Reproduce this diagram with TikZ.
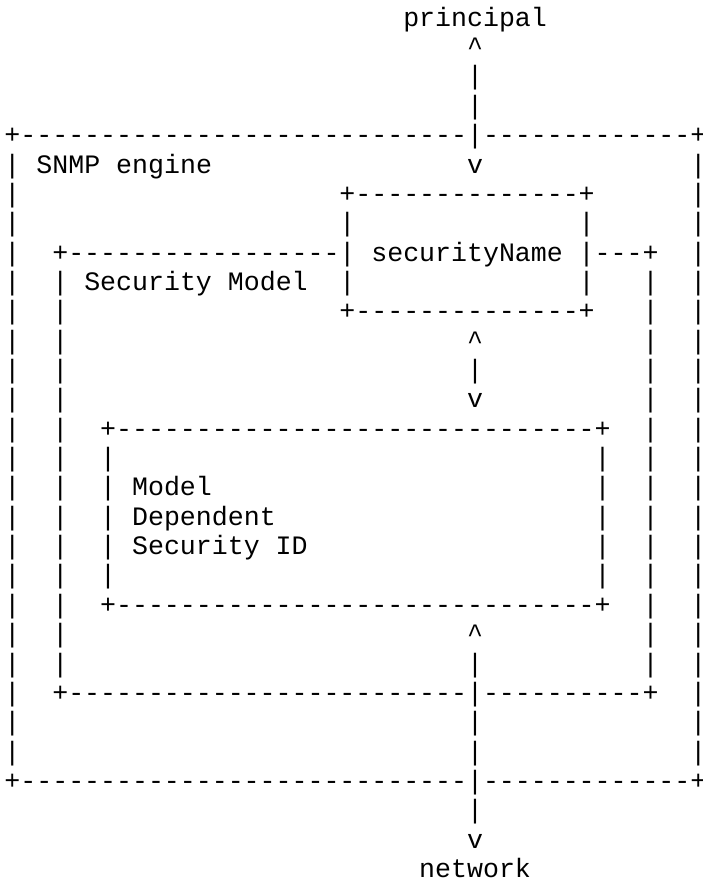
\documentclass[tikz,border=0pt]{standalone}
\usepackage{fontspec}
\newfontfamily\ascfont{Liberation Mono}
\tikzset{
  asc/.style={font=\ascfont\fontsize{26.6}{29.35}\selectfont, inner sep=0pt, outer sep=0pt, anchor=base west, text=black},
  ascchar/.style={asc, anchor=base}
}
% name, column, row, text (a word, set from the left edge of its first cell)
\newcommand\Ch[4]{\node[asc] (#1) at ({4.5+#2*15.95},{-(26.3+#3*29.35)}) {#4};}
% name, column, row, single character (centred in its cell)
\newcommand\Sc[4]{\node[ascchar] (#1) at ({12.475+#2*15.95},{-(26.3+#3*29.35)}) {\makebox[0pt]{#4}};}
% column, row
\newcommand\Bar[2]{\Sc{bar-#1-#2}{#1}{#2}{|}}
\newcommand\Plus[2]{\Sc{plus-#1-#2}{#1}{#2}{+}}
% row, from column, to column
\newcommand\Dashes[3]{\foreach \c in {#2,...,#3}{\Sc{dash-#1-\c}{\c}{#1}{-}}}
\newcommand\Up[2]{\Sc{up-#1-#2}{#1}{#2}{\char"5E}}
\newcommand\Down[2]{\Sc{down-#1-#2}{#1}{#2}{v}}
\begin{document}
\begin{tikzpicture}[x=1pt,y=1pt]
\useasboundingbox (0,0) rectangle (702,-882);
\fill[white] (0,0) rectangle (702,-882);
% texts
\Ch{principal}{25}{0}{principal}
\Ch{engine}{2}{5}{SNMP engine}
\Ch{secname}{23}{8}{securityName}
\Ch{secmodel}{5}{9}{Security Model}
\Ch{model}{8}{16}{Model}
\Ch{dependent}{8}{17}{Dependent}
\Ch{secid}{8}{18}{Security ID}
\Ch{network}{26}{29}{network}
% principal arrow
\Up{29}{1}
\Bar{29}{2}\Bar{29}{3}\Bar{29}{4}
\Down{29}{5}
% SNMP engine box
\Plus{0}{4}\Dashes{4}{1}{28}\Dashes{4}{30}{42}\Plus{43}{4}
\Plus{0}{26}\Dashes{26}{1}{28}\Dashes{26}{30}{42}\Plus{43}{26}
\foreach \r in {5,...,25}{\Bar{0}{\r}\Bar{43}{\r}}
% securityName box
\Plus{21}{6}\Dashes{6}{22}{35}\Plus{36}{6}
\Plus{21}{10}\Dashes{10}{22}{35}\Plus{36}{10}
\foreach \r in {7,8,9}{\Bar{21}{\r}\Bar{36}{\r}}
% Security Model box
\Plus{3}{8}\Dashes{8}{4}{20}\Dashes{8}{37}{39}\Plus{40}{8}
\Plus{3}{23}\Dashes{23}{4}{28}\Dashes{23}{30}{39}\Plus{40}{23}
\foreach \r in {9,...,22}{\Bar{3}{\r}\Bar{40}{\r}}
% arrow between securityName and Model Dependent Security ID
\Up{29}{11}\Bar{29}{12}\Down{29}{13}
% Model Dependent Security ID box
\Plus{6}{14}\Dashes{14}{7}{36}\Plus{37}{14}
\Plus{6}{20}\Dashes{20}{7}{36}\Plus{37}{20}
\foreach \r in {15,...,19}{\Bar{6}{\r}\Bar{37}{\r}}
% network arrow
\Up{29}{21}
\foreach \r in {22,...,27}{\Bar{29}{\r}}
\Down{29}{28}
\end{tikzpicture}
\end{document}
